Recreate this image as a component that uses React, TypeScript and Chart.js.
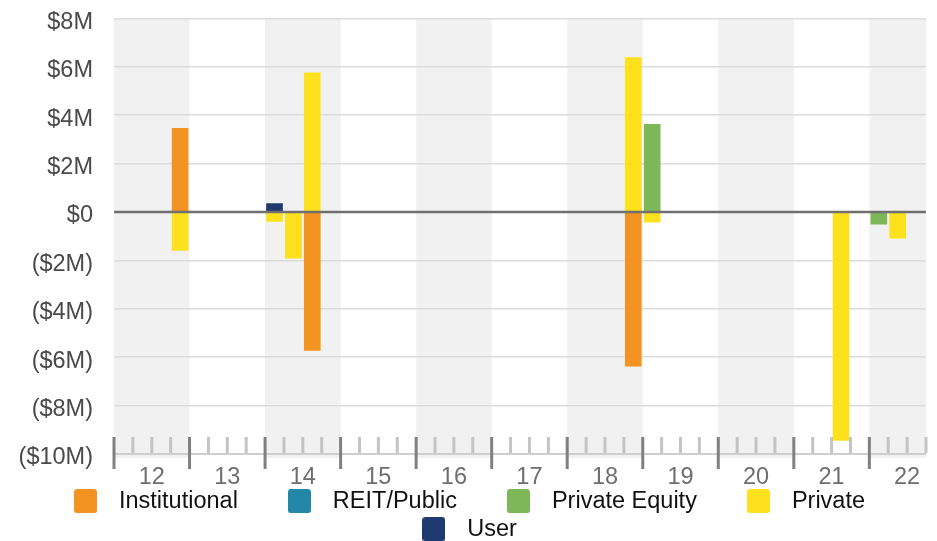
import React, { useEffect, useRef } from 'react';
import { Chart, registerables } from 'chart.js';

Chart.register(...registerables);

const FONT = '"Liberation Sans", Arial, Helvetica, sans-serif';

// Year tick labels (x axis), each year split into 4 quarters
const years = ['12', '13', '14', '15', '16', '17', '18', '19', '20', '21', '22'];
// Quarters with activity (YYQn)
const periods = ['12Q4', '14Q1', '14Q2', '14Q3', '18Q4', '19Q1', '21Q3', '22Q1', '22Q2'];

// Values in $M
const institutional = [3.45, null, null, -5.72, -6.37, null, null, null, null];
const reitPublic = [null, null, null, null, null, null, null, null, null];
const privateEquity = [null, null, null, null, null, 3.62, null, -0.5, null];
const privateVals = [-1.59, -0.39, -1.91, 5.75, 6.38, -0.42, -9.44, null, -1.08];
const userVals = [null, 0.35, null, null, null, null, null, null, null];

const seriesNames = ['Institutional', 'REIT/Public', 'Private Equity', 'Private', 'User'];
const seriesValues = [institutional, reitPublic, privateEquity, privateVals, userVals];
const seriesColors = ['#F39321', '#2387A7', '#7DB758', '#FDE11D', '#1F3A6F'];

const yMin = -10;
const yMax = 8;
const yStep = 2;
const quarterCount = 43; // 2012 Q1 .. 2022 Q3 visible

const periodToX = (p: string) =>
  (parseInt(p.slice(0, 2), 10) - parseInt(years[0], 10)) * 4 + (parseInt(p.slice(3), 10) - 1) + 0.5;

const fmtMoney = (v: number) => (v === 0 ? '$0' : v > 0 ? `$${v}M` : `($${-v}M)`);

const TRAIL = '\u2003\u2002';

function makeSwatch(color: string) {
  const c = document.createElement('canvas');
  c.width = 23;
  c.height = 24;
  const g = c.getContext('2d')!;
  g.fillStyle = color;
  g.beginPath();
  (g as any).roundRect(0, 0, 23, 24, 3);
  g.fill();
  return c;
}

const decorPlugin = {
  id: 'decor',
  beforeDraw(chart: any) {
    const { ctx, chartArea: ca, scales } = chart;
    const x = scales.x;
    ctx.save();
    ctx.fillStyle = '#f1f1f1';
    years.forEach((_, i) => {
      if (i % 2) return;
      const l = x.getPixelForValue(i * 4);
      const r = Math.min(x.getPixelForValue(i * 4 + 4), ca.right);
      ctx.fillRect(l, ca.top, r - l, ca.bottom + 4 - ca.top);
    });
    ctx.restore();
  },
  afterDatasetsDraw(chart: any) {
    const { ctx, chartArea: ca, scales } = chart;
    const y0 = scales.y.getPixelForValue(0);
    ctx.save();
    ctx.strokeStyle = '#707070';
    ctx.lineWidth = 2.5;
    ctx.beginPath();
    ctx.moveTo(ca.left, y0);
    ctx.lineTo(ca.right, y0);
    ctx.stroke();
    ctx.restore();
  },
  afterDraw(chart: any) {
    const { ctx, chartArea: ca, scales } = chart;
    const x = scales.x;
    ctx.save();
    ctx.strokeStyle = '#c8c8c8';
    ctx.lineWidth = 1.5;
    ctx.beginPath();
    ctx.moveTo(ca.left, ca.bottom);
    ctx.lineTo(ca.right, ca.bottom);
    ctx.stroke();
    ctx.lineWidth = 3;
    for (let q = 0; q <= quarterCount; q++) {
      const px = x.getPixelForValue(q);
      const major = q % 4 === 0;
      ctx.strokeStyle = major ? '#808080' : '#c4c4c4';
      ctx.beginPath();
      ctx.moveTo(px, ca.bottom - 17);
      ctx.lineTo(px, major ? ca.bottom + 15 : ca.bottom - 1);
      ctx.stroke();
    }
    ctx.restore();
  },
};

export default function App() {
  const ref = useRef<HTMLCanvasElement>(null);

  useEffect(() => {
    if (!ref.current) return;
    const swatches = seriesColors.map(makeSwatch);
    const datasets = seriesNames.map((name, i) => ({
      label: name,
      data: periods
        .map((p, j) => ({ x: periodToX(p), y: seriesValues[i][j] }))
        .filter((d) => d.y !== null),
      backgroundColor: seriesColors[i],
      borderWidth: 0,
      barThickness: 16,
    }));

    const chart = new Chart(ref.current, {
      type: 'bar',
      data: { datasets: datasets as any },
      plugins: [decorPlugin],
      options: {
        animation: false,
        responsive: false,
        devicePixelRatio: 1,
        layout: { padding: { left: 38, right: 11, top: 18.3, bottom: 0 } },
        plugins: {
          tooltip: { enabled: false },
          legend: {
            position: 'bottom',
            labels: {
              usePointStyle: true,
              pointStyleWidth: 43.5,
              boxHeight: 23,
              padding: 4.5,
              color: '#111',
              font: { family: FONT, size: 23.5 },
              generateLabels(c: any) {
                const items = Chart.defaults.plugins.legend.labels.generateLabels(c);
                return items.map((it: any, i: number) => ({
                  ...it,
                  text: it.text + TRAIL,
                  pointStyle: swatches[i],
                  lineWidth: 0,
                }));
              },
            },
          },
        },
        scales: {
          x: {
            type: 'linear',
            min: 0,
            max: quarterCount,
            offset: false,
            stacked: true,
            grid: { display: false, drawTicks: false },
            border: { display: false },
            afterBuildTicks(scale: any) {
              scale.ticks = years.map((_, i) => ({ value: i * 4 + 2 }));
            },
            afterFit(scale: any) {
              scale.height = 31;
              scale.paddingLeft = 0;
              scale.paddingRight = 0;
            },
            ticks: {
              autoSkip: false,
              maxRotation: 0,
              minRotation: 0,
              padding: 9,
              color: '#6e6e6e',
              font: { family: FONT, size: 23.5 },
              callback: (_v: any, idx: number) => years[idx],
            },
          },
          y: {
            type: 'linear',
            min: yMin,
            max: yMax,
            stacked: true,
            afterFit(scale: any) {
              scale.width = 76;
              scale.paddingTop = 0;
              scale.paddingBottom = 0;
              // let labels extend left of the axis box, and sit slightly below their grid lines
              scale._computeLabelArea = () => undefined;
              if (!scale.__wrapped) {
                const orig = scale._computeLabelItems.bind(scale);
                scale._computeLabelItems = (area: any) =>
                  orig(area).map((it: any) => ({
                    ...it,
                    options: {
                      ...it.options,
                      translation: [it.options.translation[0], it.options.translation[1] + 4],
                    },
                  }));
                scale.__wrapped = true;
              }
            },
            grid: { color: '#dcdcdc', lineWidth: 1.5, drawTicks: false },
            border: { display: false },
            ticks: {
              stepSize: yStep,
              padding: 21,
              color: '#4a4a4a',
              font: { family: FONT, size: 23.5 },
              callback: (v: any) => fmtMoney(Number(v)),
            },
          },
        },
      } as any,
    });
    return () => chart.destroy();
  }, []);

  return (
    <div style={{ position: 'fixed', left: 0, top: 0, width: 937, height: 541, overflow: 'hidden', background: '#fff' }}>
      <canvas ref={ref} width={937} height={551} style={{ display: 'block' }} />
    </div>
  );
}
